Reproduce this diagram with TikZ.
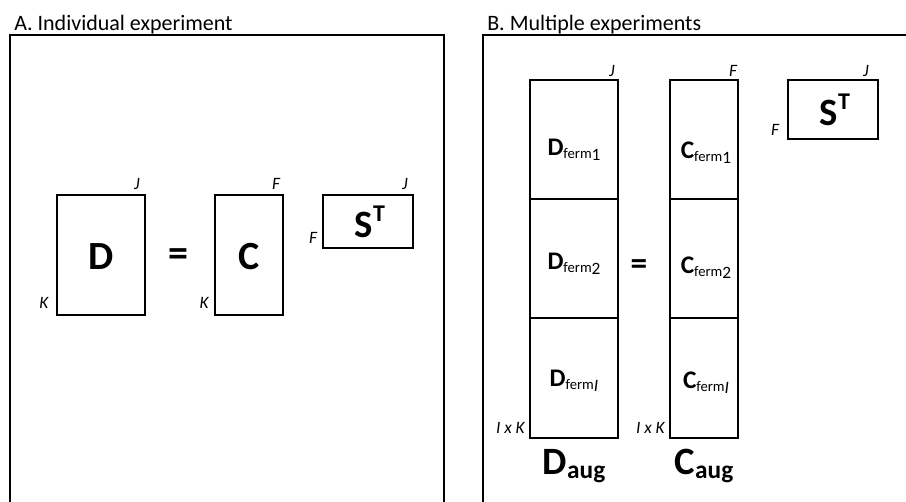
\documentclass[tikz,border=0pt]{standalone}
\usepackage{fontspec}
\setmainfont{Carlito}
\newcommand{\fsz}[1]{\fontsize{#1}{#1}\selectfont}
\newcommand{\fermlbl}[2]{{\fsz{19}\bfseries #1}\raisebox{-0.45ex}{\fsz{11}ferm\raisebox{-0.35ex}{\fsz{13}#2}}}
\newcommand{\auglbl}[1]{{\fsz{29}\bfseries #1}\raisebox{-0.55ex}{\fsz{19}\bfseries aug}}
\begin{document}
\begin{tikzpicture}[x=0.75pt,y=-0.75pt,
  mbox/.style={draw,line width=1.5pt,inner sep=0pt,rectangle},
  frame/.style={draw,line width=1.2pt},
  dimlbl/.style={font=\fsz{13}\itshape,inner sep=0pt},
  ttl/.style={font=\fsz{16.5},inner sep=0pt,anchor=base west},
  bigl/.style={font=\fsz{30}\bfseries,inner sep=0pt},
  eqs/.style={font=\fsz{30}\bfseries,inner sep=0pt}]
\useasboundingbox (0,0) rectangle (906,501);
\fill[white] (0,0) rectangle (906,501);
% titles
\node[ttl] (tA) at (14,30) {A. Individual experiment};
\node[ttl] (tB) at (487,30) {B. Multiple experiments};
% frames
\coordinate (a1) at (10,502); \coordinate (a2) at (10,35);
\coordinate (a3) at (444,35); \coordinate (a4) at (444,502);
\draw[frame] (a1) -- (a2) -- (a3) -- (a4);
\coordinate (b1) at (483,502); \coordinate (b2) at (483,35);
\coordinate (b3) at (907,35);
\draw[frame] (b1) -- (b2) -- (b3);
% ---------- Panel A ----------
\node[mbox,minimum width={88*0.75pt},minimum height={120*0.75pt}] (D) at (101,255) {};
\node[bigl] (Dl) at (101,257) {D};
\node[mbox,minimum width={68*0.75pt},minimum height={120*0.75pt}] (C) at (249,255) {};
\node[bigl] (Cl) at (249,257) {C};
\node[mbox,minimum width={90*0.75pt},minimum height={53*0.75pt}] (S) at (368,221.5) {};
\node[font=\fsz{29}\bfseries,inner sep=0pt] (Sl) at (370,222) {S\raisebox{0.85ex}{\fsz{18}T}};
\node[eqs] (eqA) at (178,258) {=};
\node[dimlbl] (DJ) at (137,184) {J};
\node[dimlbl] (DK) at (44,303) {K};
\node[dimlbl] (CF) at (276,184) {F};
\node[dimlbl] (CK) at (204,303) {K};
\node[dimlbl] (SJ) at (405,184) {J};
\node[dimlbl] (SF) at (313,238) {F};
% ---------- Panel B ----------
\node[mbox,minimum width={88*0.75pt},minimum height={119*0.75pt}] (D1) at (574,139.5) {};
\node[mbox,minimum width={88*0.75pt},minimum height={119*0.75pt}] (D2) at (574,258.5) {};
\node[mbox,minimum width={88*0.75pt},minimum height={120*0.75pt}] (D3) at (574,378) {};
\node[mbox,minimum width={68*0.75pt},minimum height={119*0.75pt}] (C1) at (704,139.5) {};
\node[mbox,minimum width={68*0.75pt},minimum height={119*0.75pt}] (C2) at (704,258.5) {};
\node[mbox,minimum width={68*0.75pt},minimum height={120*0.75pt}] (C3) at (704,378) {};
\node[inner sep=0pt] (D1l) at (574,150) {\fermlbl{D}{1}};
\node[inner sep=0pt] (D2l) at (574,264) {\fermlbl{D}{2}};
\node[inner sep=0pt] (D3l) at (574,381) {\fermlbl{D}{\itshape I}};
\node[inner sep=0pt] (C1l) at (706,153) {\fermlbl{C}{1}};
\node[inner sep=0pt] (C2l) at (706,268) {\fermlbl{C}{2}};
\node[inner sep=0pt] (C3l) at (706,383) {\fermlbl{C}{\itshape I}};
\node[mbox,minimum width={90*0.75pt},minimum height={59*0.75pt}] (SB) at (833,109.5) {};
\node[font=\fsz{29}\bfseries,inner sep=0pt] (SBl) at (835,110) {S\raisebox{0.85ex}{\fsz{18}T}};
\node[font=\fsz{25}\bfseries,inner sep=0pt] (eqB) at (639,267) {=};
\node[dimlbl] (DBJ) at (612,71) {J};
\node[dimlbl] (CBF) at (733,71) {F};
\node[dimlbl] (SBJ) at (866,71) {J};
\node[dimlbl] (SBF) at (775,130) {F};
\node[dimlbl,anchor=east] (DIK) at (525,428) {I x K};
\node[dimlbl,anchor=east] (CIK) at (665,428) {I x K};
\node[inner sep=0pt] (Daug) at (574,466) {\auglbl{D}};
\node[inner sep=0pt] (Caug) at (704,466) {\auglbl{C}};
\end{tikzpicture}
\end{document}
